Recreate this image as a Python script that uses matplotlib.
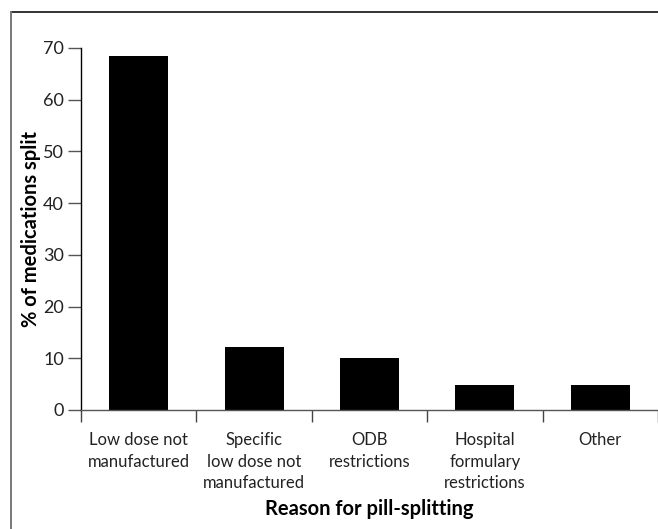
import matplotlib
matplotlib.use("Agg")
import matplotlib.pyplot as plt
from matplotlib.lines import Line2D

categories = ["Low dose not\nmanufactured", "Specific\nlow dose not\nmanufactured",
              "ODB\nrestrictions", "Hospital\nformulary\nrestrictions", "Other"]
values = [68.4, 12.2, 10.0, 4.8, 4.8]
yticks = [0, 10, 20, 30, 40, 50, 60, 70]

plt.rcParams['font.family'] = ['Lato', 'DejaVu Sans']

W, H = 658, 529
fig = plt.figure(figsize=(W/100, H/100), dpi=100)
ax = fig.add_axes([81/W, 1-410/H, 1-81/W, (410-48)/H])

x = list(range(len(categories)))
ax.bar(x, values, width=0.51, color='black')
ax.set_xlim(-0.5, -0.5 + 577/116)
ax.set_ylim(0, 70)
ax.set_yticks(yticks)
ax.set_yticklabels([str(t) for t in yticks], fontsize=13, color='#222222')

ax.set_xticks(x)
ax.set_xticklabels(categories, fontsize=12, color='#222222', linespacing=1.42)
ax.tick_params(axis='x', which='major', length=0, pad=16)
ax.set_xticks([i - 0.5 for i in range(len(categories) + 1)], minor=True)
ax.tick_params(axis='x', which='minor', length=8.6, width=1, color='#444444', direction='out')
ax.tick_params(axis='y', length=9.4, width=1, color='#555555', pad=3)

for s in ['top', 'right']:
    ax.spines[s].set_visible(False)
ax.spines['left'].set_color('black')
ax.spines['left'].set_linewidth(1)
ax.spines['bottom'].set_color('#555555')
ax.spines['bottom'].set_linewidth(1)

ax.set_ylabel('% of medications split', fontsize=14.5, fontweight='bold', labelpad=1.5)
ax.set_xlabel('Reason for pill-splitting', fontsize=14.5, fontweight='bold', labelpad=6)

fig.add_artist(Line2D([11/W, 1], [1-12/H, 1-12/H], transform=fig.transFigure, color='#333333', lw=1.4))
fig.add_artist(Line2D([11/W, 11/W], [0, 1-12/H], transform=fig.transFigure, color='#777777', lw=1.4))

fig.savefig('out.png', dpi=100)
